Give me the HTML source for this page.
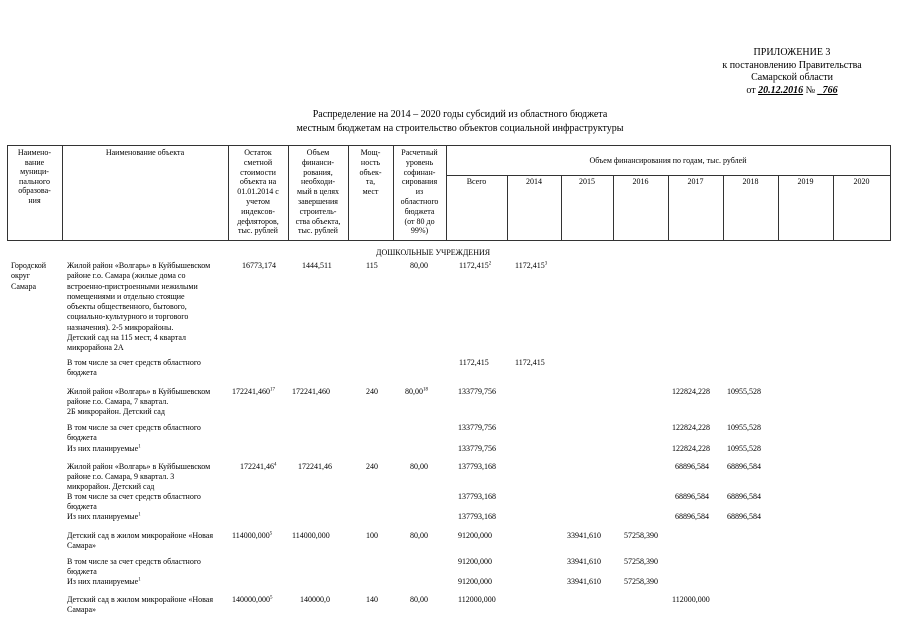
<!DOCTYPE html>
<html><head><meta charset="utf-8">
<style>
body{margin:0;width:905px;height:640px;background:#fff;position:relative;overflow:hidden;font-family:"Liberation Serif",serif;color:#000}
.t{position:absolute;font-size:8px;line-height:10px;white-space:nowrap}
.h{position:absolute;font-size:10px;line-height:12px;white-space:nowrap}
.c{text-align:center}
.v{position:absolute;background:#333;width:1px}
.hl{position:absolute;background:#333;height:1px}
sup{font-size:5px;line-height:0}
</style></head><body>
<div class="h c" style="left:692px;top:47px;width:200px;line-height:12.5px">ПРИЛОЖЕНИЕ 3<br>к постановлению Правительства<br>Самарской области<br>от <i style="text-decoration:underline;font-weight:bold">20.12.2016</i> № <i style="text-decoration:underline;font-weight:bold">_766</i></div>
<div class="h c" style="left:160px;top:108px;width:600px;line-height:13.5px">Распределение на 2014 – 2020 годы субсидий из областного бюджета<br>местным бюджетам на строительство объектов социальной инфраструктуры</div>

<div class="hl" style="left:7px;top:145px;width:884px"></div>
<div class="hl" style="left:446px;top:175px;width:445px"></div>
<div class="hl" style="left:7px;top:240px;width:884px"></div>
<div class="v" style="left:7px;top:145px;height:96px"></div>
<div class="v" style="left:62px;top:145px;height:96px"></div>
<div class="v" style="left:228px;top:145px;height:96px"></div>
<div class="v" style="left:288px;top:145px;height:96px"></div>
<div class="v" style="left:348px;top:145px;height:96px"></div>
<div class="v" style="left:393px;top:145px;height:96px"></div>
<div class="v" style="left:446px;top:145px;height:96px"></div>
<div class="v" style="left:507px;top:175px;height:66px"></div>
<div class="v" style="left:561px;top:175px;height:66px"></div>
<div class="v" style="left:613px;top:175px;height:66px"></div>
<div class="v" style="left:668px;top:175px;height:66px"></div>
<div class="v" style="left:723px;top:175px;height:66px"></div>
<div class="v" style="left:778px;top:175px;height:66px"></div>
<div class="v" style="left:833px;top:175px;height:66px"></div>
<div class="v" style="left:890px;top:145px;height:96px"></div>

<div class="t c" style="left:7px;top:148px;width:55px;line-height:9.5px">Наимено-<br>вание<br>муници-<br>пального<br>образова-<br>ния</div>
<div class="t c" style="left:62px;top:148px;width:166px">Наименование объекта</div>
<div class="t c" style="left:228px;top:148px;width:60px;line-height:9.8px">Остаток<br>сметной<br>стоимости<br>объекта на<br>01.01.2014 с<br>учетом<br>индексов-<br>дефляторов,<br>тыс. рублей</div>
<div class="t c" style="left:288px;top:148px;width:60px;line-height:9.8px">Объем<br>финанси-<br>рования,<br>необходи-<br>мый в целях<br>завершения<br>строитель-<br>ства объекта,<br>тыс. рублей</div>
<div class="t c" style="left:348px;top:148px;width:45px;line-height:9.8px">Мощ-<br>ность<br>объек-<br>та,<br>мест</div>
<div class="t c" style="left:393px;top:148px;width:53px;line-height:9.8px">Расчетный<br>уровень<br>софинан-<br>сирования<br>из<br>областного<br>бюджета<br>(от 80 до<br>99%)</div>
<div class="t c" style="left:446px;top:156px;width:444px">Объем финансирования по годам, тыс. рублей</div>
<div class="t c" style="left:446px;top:177px;width:61px">Всего</div>
<div class="t c" style="left:507px;top:177px;width:54px">2014</div>
<div class="t c" style="left:561px;top:177px;width:52px">2015</div>
<div class="t c" style="left:613px;top:177px;width:55px">2016</div>
<div class="t c" style="left:668px;top:177px;width:55px">2017</div>
<div class="t c" style="left:723px;top:177px;width:55px">2018</div>
<div class="t c" style="left:778px;top:177px;width:55px">2019</div>
<div class="t c" style="left:833px;top:177px;width:57px">2020</div>

<div class="t" style="left:376px;top:248px">ДОШКОЛЬНЫЕ УЧРЕЖДЕНИЯ</div>

<div class="t" style="left:11px;top:261px;line-height:10.3px">Городской<br>округ<br>Самара</div>
<div class="t" style="left:67px;top:261px;line-height:10.3px">Жилой район «Волгарь» в Куйбышевском<br>районе г.о. Самара (жилые дома со<br>встроенно-пристроенными нежилыми<br>помещениями и отдельно стоящие<br>объекты общественного, бытового,<br>социально-культурного и торгового<br>назначения). 2-5 микрорайоны.<br>Детский сад на 115 мест, 4 квартал<br>микрорайона 2А</div>
<div class="t" style="left:242px;top:261px">16773,174</div>
<div class="t" style="left:302px;top:261px">1444,511</div>
<div class="t" style="left:366px;top:261px">115</div>
<div class="t" style="left:410px;top:261px">80,00</div>
<div class="t" style="left:459px;top:261px">1172,415<sup>2</sup></div>
<div class="t" style="left:515px;top:261px">1172,415<sup>3</sup></div>

<div class="t" style="left:67px;top:358px">В том числе за счет средств областного<br>бюджета</div>
<div class="t" style="left:459px;top:358px">1172,415</div>
<div class="t" style="left:515px;top:358px">1172,415</div>

<div class="t" style="left:67px;top:387px">Жилой район «Волгарь» в Куйбышевском<br>районе г.о. Самара, 7 квартал.<br>2Б микрорайон. Детский сад</div>
<div class="t" style="left:232px;top:387px">172241,460<sup>17</sup></div>
<div class="t" style="left:292px;top:387px">172241,460</div>
<div class="t" style="left:366px;top:387px">240</div>
<div class="t" style="left:405px;top:387px">80,00<sup>18</sup></div>
<div class="t" style="left:458px;top:387px">133779,756</div>
<div class="t" style="left:672px;top:387px">122824,228</div>
<div class="t" style="left:727px;top:387px">10955,528</div>

<div class="t" style="left:67px;top:423px">В том числе за счет средств областного<br>бюджета</div>
<div class="t" style="left:458px;top:423px">133779,756</div>
<div class="t" style="left:672px;top:423px">122824,228</div>
<div class="t" style="left:727px;top:423px">10955,528</div>
<div class="t" style="left:67px;top:444px">Из них планируемые<sup>1</sup></div>
<div class="t" style="left:458px;top:444px">133779,756</div>
<div class="t" style="left:672px;top:444px">122824,228</div>
<div class="t" style="left:727px;top:444px">10955,528</div>

<div class="t" style="left:67px;top:462px">Жилой район «Волгарь» в Куйбышевском<br>районе г.о. Самара, 9 квартал. 3<br>микрорайон. Детский сад</div>
<div class="t" style="left:240px;top:462px">172241,46<sup>4</sup></div>
<div class="t" style="left:298px;top:462px">172241,46</div>
<div class="t" style="left:366px;top:462px">240</div>
<div class="t" style="left:410px;top:462px">80,00</div>
<div class="t" style="left:458px;top:462px">137793,168</div>
<div class="t" style="left:675px;top:462px">68896,584</div>
<div class="t" style="left:727px;top:462px">68896,584</div>

<div class="t" style="left:67px;top:492px">В том числе за счет средств областного<br>бюджета</div>
<div class="t" style="left:458px;top:492px">137793,168</div>
<div class="t" style="left:675px;top:492px">68896,584</div>
<div class="t" style="left:727px;top:492px">68896,584</div>
<div class="t" style="left:67px;top:512px">Из них планируемые<sup>1</sup></div>
<div class="t" style="left:458px;top:512px">137793,168</div>
<div class="t" style="left:675px;top:512px">68896,584</div>
<div class="t" style="left:727px;top:512px">68896,584</div>

<div class="t" style="left:67px;top:531px">Детский сад в жилом микрорайоне «Новая<br>Самара»</div>
<div class="t" style="left:232px;top:531px">114000,000<sup>5</sup></div>
<div class="t" style="left:292px;top:531px">114000,000</div>
<div class="t" style="left:366px;top:531px">100</div>
<div class="t" style="left:410px;top:531px">80,00</div>
<div class="t" style="left:458px;top:531px">91200,000</div>
<div class="t" style="left:567px;top:531px">33941,610</div>
<div class="t" style="left:624px;top:531px">57258,390</div>

<div class="t" style="left:67px;top:557px">В том числе за счет средств областного<br>бюджета</div>
<div class="t" style="left:458px;top:557px">91200,000</div>
<div class="t" style="left:567px;top:557px">33941,610</div>
<div class="t" style="left:624px;top:557px">57258,390</div>
<div class="t" style="left:67px;top:577px">Из них планируемые<sup>1</sup></div>
<div class="t" style="left:458px;top:577px">91200,000</div>
<div class="t" style="left:567px;top:577px">33941,610</div>
<div class="t" style="left:624px;top:577px">57258,390</div>

<div class="t" style="left:67px;top:595px">Детский сад в жилом микрорайоне «Новая<br>Самара»</div>
<div class="t" style="left:232px;top:595px">140000,000<sup>5</sup></div>
<div class="t" style="left:300px;top:595px">140000,0</div>
<div class="t" style="left:366px;top:595px">140</div>
<div class="t" style="left:410px;top:595px">80,00</div>
<div class="t" style="left:458px;top:595px">112000,000</div>
<div class="t" style="left:672px;top:595px">112000,000</div>
</body></html>
